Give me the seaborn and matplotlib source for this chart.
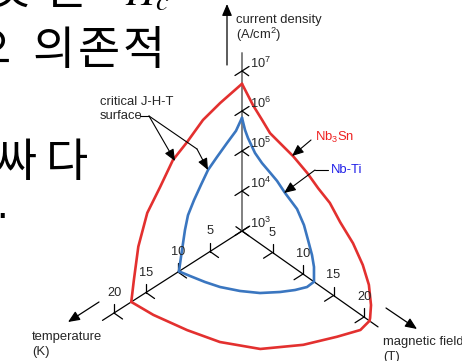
import numpy as np
import pandas as pd
import matplotlib
matplotlib.use("Agg")
import matplotlib.pyplot as plt
import seaborn as sns

# ---- critical surface edges: temperature (K), field (T), log10 Jc (A/cm^2) ----
# Nb3Sn
nb3sn_jt_temp = [0, 3.4, 6.1, 8.6, 10.8, 12.8, 14.8, 16.2, 16.9, 17.3]
nb3sn_jt_logj = [6.68, 6.55, 6.40, 6.10, 5.88, 5.41, 4.97, 4.27, 3.5, 3.0]
nb3sn_jh_field = [0, 1.8, 3.3, 4.6, 7.05, 8.4, 10.7, 12.5, 14.4, 16.1, 18.2, 19.8, 20.8, 21.15, 21.0, 20.9]
nb3sn_jh_logj = [6.68, 6.34, 6.13, 5.94, 5.83, 5.77, 5.60, 5.41, 5.25, 4.95, 4.65, 4.28, 3.89, 3.42, 3.08, 3.0]
nb3sn_ht_temp = [17.3, 17.0, 16.0, 14.7, 12.2, 8.2, 4.5, 1.8, 0]
nb3sn_ht_field = [0, 3.3, 7.8, 11.8, 15.8, 18.65, 20.3, 21.3, 20.9]

# Nb-Ti
nbti_jt_temp = [0, 0.94, 2.34, 3.91, 5.31, 6.41, 7.5, 8.44, 8.91, 9.53, 9.85]
nbti_jt_logj = [5.83, 5.60, 5.44, 5.25, 5.07, 4.81, 4.54, 4.26, 3.94, 3.33, 3.0]
nbti_jh_field = [0, 0.49, 0.98, 2.13, 3.28, 4.26, 5.74, 7.05, 9.02, 10.16, 10.82, 11.48, 11.8, 11.8]
nbti_jh_logj = [5.83, 5.58, 5.43, 5.18, 5.05, 4.98, 4.87, 4.71, 4.52, 4.24, 3.94, 3.63, 3.37, 3.0]
nbti_ht_temp = [9.85, 9.48, 8.95, 8.30, 7.13, 5.73, 3.97, 2.51, 1.18, 0]
nbti_ht_field = [0, 1.42, 3.33, 5.11, 7.15, 8.96, 10.40, 11.33, 11.90, 11.8]

# axis ticks
temp_ticks = [5, 10, 15, 20]
field_ticks = [5, 10, 15, 20]
jc_decades = [3, 4, 5, 6, 7]

RED = "#e3302f"
BLUE = "#3a76c0"

# ---- oblique projection of (T, H, log Jc) onto the drawing plane ----
ORIGIN = np.array([242.0, 231.0])
T_VEC = np.array([-6.4, 4.1])
H_VEC = np.array([6.1, 4.3])
DECADE = 40.0
J_FLOOR = 3.0


def project(t, h, logj):
    t = np.asarray(t, float)
    h = np.asarray(h, float)
    logj = np.asarray(logj, float)
    x = ORIGIN[0] + t * T_VEC[0] + h * H_VEC[0]
    y = ORIGIN[1] + t * T_VEC[1] + h * H_VEC[1] - (logj - J_FLOOR) * DECADE
    return x, y


def edge(name, t, h, logj):
    x, y = project(t, h, logj)
    return pd.DataFrame({"x": x, "y": y, "edge": name, "order": np.arange(len(x))})


frames = [
    edge("nb3sn_jt", nb3sn_jt_temp, np.zeros(len(nb3sn_jt_temp)), nb3sn_jt_logj),
    edge("nb3sn_jh", np.zeros(len(nb3sn_jh_field)), nb3sn_jh_field, nb3sn_jh_logj),
    edge("nb3sn_ht", nb3sn_ht_temp, nb3sn_ht_field, np.full(len(nb3sn_ht_temp), J_FLOOR)),
    edge("nbti_jt", nbti_jt_temp, np.zeros(len(nbti_jt_temp)), nbti_jt_logj),
    edge("nbti_jh", np.zeros(len(nbti_jh_field)), nbti_jh_field, nbti_jh_logj),
    edge("nbti_ht", nbti_ht_temp, nbti_ht_field, np.full(len(nbti_ht_temp), J_FLOOR)),
]
surface = pd.concat(frames, ignore_index=True)
palette = {k: (RED if k.startswith("nb3sn") else BLUE) for k in surface["edge"].unique()}

sns.set_theme(style="white")
plt.rcParams["font.family"] = ["Liberation Sans", "DejaVu Sans"]
plt.rcParams["mathtext.fontset"] = "custom"
plt.rcParams["mathtext.rm"] = "Liberation Sans"
plt.rcParams["mathtext.it"] = "Liberation Sans:italic"

fig = plt.figure(figsize=(4.62, 3.61), dpi=100)
ax = fig.add_axes([0, 0, 1, 1])
ax.set_xlim(0, 462)
ax.set_ylim(361, 0)
ax.axis("off")

# ---- Korean slide text on the left (glyphs placed one by one) ----
kr = ["Noto Sans CJK KR", "DejaVu Sans"]
KR_SIZE = 33
for ch, xpos, base in [("것", -12, 4), ("은", 46, 4),
                       ("으", -31, 64), ("의", 32, 64), ("존", 78, 64), ("적", 123, 64),
                       ("싸", -6, 176), ("다", 46, 176)]:
    ax.text(xpos, base, ch, family=kr, fontsize=KR_SIZE, ha="left", va="baseline",
            color="black")
ax.text(125, 5, "$H_c$", fontsize=30, math_fontfamily="stix", ha="left",
        va="baseline", color="black")
ax.text(-4, 218, ".", fontsize=30, ha="left", va="baseline", color="black")

# ---- axes ----
LW_AX = 0.9
x, y = project([-1.2, 21.8], [0, 0], [3, 3])
ax.plot(x, y, color="black", lw=LW_AX)
x, y = project([0, 0], [-1.0, 22.3], [3, 3])
ax.plot(x, y, color="black", lw=LW_AX)
x, y = project([0, 0], [0, 0], [3, 7.45])
ax.plot(x, y, color="#808080", lw=1.4)

TICK = 9.0
for t in temp_ticks:
    px, py = project(t, 0, 3)
    ax.plot([px, px], [py, py - TICK], color="black", lw=LW_AX)
    ax.plot([px, px + H_VEC[0] * 1.4], [py, py + H_VEC[1] * 1.4], color="black", lw=LW_AX)
    ax.text(px, py - 20, str(t), fontsize=9.2, ha="center", va="center")
for h in field_ticks:
    px, py = project(0, h, 3)
    ax.plot([px, px], [py, py - TICK], color="black", lw=LW_AX)
    ax.plot([px, px + T_VEC[0] * 1.4], [py, py + T_VEC[1] * 1.4], color="black", lw=LW_AX)
    ax.text(px, py - 20, str(h), fontsize=9.2, ha="center", va="center")
for d in jc_decades:
    px, py = project(0, 0, d)
    # stroke along the temperature direction plus a stub toward +field
    ax.plot([px - T_VEC[0] * 1.1, px + T_VEC[0] * 1.1],
            [py - T_VEC[1] * 1.1, py + T_VEC[1] * 1.1], color="black", lw=LW_AX)
    ax.plot([px, px + H_VEC[0] * 1.1], [py, py + H_VEC[1] * 1.1], color="black", lw=LW_AX)
    ax.text(px + 8, py - 8, rf"$10^{{{d}}}$", fontsize=9.2, ha="left", va="center")

# ---- critical surface edges ----
sns.lineplot(data=surface, x="x", y="y", hue="edge", units="edge", estimator=None,
             sort=False, palette=palette, linewidth=1.9, legend=False, ax=ax)
ax.set_xlim(0, 462)
ax.set_ylim(361, 0)
ax.axis("off")

# ---- axis arrows and titles ----
arrow = dict(arrowstyle="-|>,head_length=0.7,head_width=0.3", color="black", lw=0.9,
             shrinkA=0, shrinkB=0, mutation_scale=10)
ax.annotate("", xy=(227, 4), xytext=(227, 65), arrowprops=arrow)
ax.annotate("", xy=(68, 322), xytext=(99, 302), arrowprops=arrow)
ax.annotate("", xy=(417, 329), xytext=(386, 308), arrowprops=arrow)

LBL = 9.4
ax.text(236, 20, "current density", fontsize=LBL, ha="left", va="center")
ax.text(236, 35, "(A/cm$^2$)", fontsize=LBL, ha="left", va="center")
ax.text(32, 337, "temperature", fontsize=LBL, ha="left", va="center")
ax.text(32, 352, "(K)", fontsize=LBL, ha="left", va="center")
ax.text(383, 342, "magnetic field", fontsize=LBL, ha="left", va="center")
ax.text(383, 357, "(T)", fontsize=LBL, ha="left", va="center")

# ---- callouts ----
ax.text(100, 102, "critical J-H-T", fontsize=LBL, ha="left", va="center")
ax.text(100, 116, "surface", fontsize=LBL, ha="left", va="center")
ax.plot([140, 149], [116, 116], color="black", lw=0.8)
ax.annotate("", xy=(175, 161), xytext=(149, 116), arrowprops=dict(arrow, lw=0.8))
ax.plot([149, 197], [116, 149], color="black", lw=0.8)
ax.annotate("", xy=(208, 170), xytext=(197, 149), arrowprops=dict(arrow, lw=0.8))

ax.text(315, 137, "Nb$_3$Sn", fontsize=LBL, color="#ee2020", ha="left", va="center")
ax.annotate("", xy=(292, 156), xytext=(311, 140), arrowprops=dict(arrow, lw=0.8))
ax.text(331, 170, "Nb-Ti", fontsize=LBL, color="#2020e8", ha="left", va="center")
ax.plot([315, 328], [170, 170], color="black", lw=0.8)
ax.annotate("", xy=(284, 193), xytext=(315, 170), arrowprops=dict(arrow, lw=0.8))

fig.savefig("out.png", dpi=100)
